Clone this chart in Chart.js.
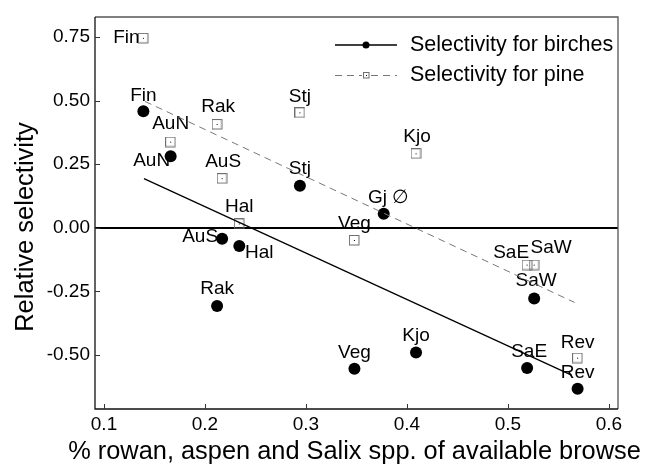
<!DOCTYPE html>
<html><head><meta charset="utf-8">
<script src="https://cdn.jsdelivr.net/npm/chart.js@4.4.0/dist/chart.umd.min.js"></script>
<style>html,body{margin:0;padding:0;background:#fff}#wrap{width:648px;height:464px;position:relative}</style>
</head><body><div id="wrap"><canvas id="c" width="648" height="464"></canvas></div>
<script>
// ---- data ----
const sites = ['Fin','AuN','Rak','AuS','Hal','Stj','Veg','Gj','Kjo','SaE','SaW','Rev'];
const browseShare = [0.139,0.166,0.212,0.217,0.234,0.294,0.348,0.377,0.409,0.519,0.526,0.569];
const birchSelectivity = [0.458,0.281,-0.308,-0.043,-0.072,0.165,-0.555,0.055,-0.491,-0.552,-0.278,-0.633];
const pineSelectivity = [0.745,0.337,0.406,0.193,0.015,0.452,-0.050,null,0.291,-0.147,-0.147,-0.513];
const birchLabels = ['Fin','AuN','Rak','AuS','Hal','Stj','Veg','Gj \u2205','Kjo','SaE','SaW','Rev'];
const pineLabels = ['Fin','AuN','Rak','AuS','Hal','Stj','Veg',null,'Kjo','SaE','SaW','Rev'];
const birchFitX = [0.1396, 0.563];
const birchFitY = [0.193, -0.58];
const pineFitX = [0.1406, 0.566];
const pineFitY = [0.497, -0.294];
const xTicks = [0.1,0.2,0.3,0.4,0.5,0.6];
const yTicks = [0.75,0.5,0.25,0,-0.25,-0.5];
const seriesNames = ['Selectivity for birches','Selectivity for pine'];
const xTitle = '% rowan, aspen and Salix spp. of available browse';
const yTitle = 'Relative selectivity';

// ---- label placement (pixel offsets from the point) ----
const birchLabelOffsets = [[0,-16],[-19,4],[0,-17],[-22,-2],[20,7],[0,-17],[0,-16],[5,-16],[0,-17],[2,-16],[2,-18],[0,-16]];
const pineLabelOffsets = [[-17,-1],[0,-18],[1,-18],[1,-17],[0,-17],[0,-16],[0,-17],null,[1,-17],[-16,-12],[17,-17],[0,-15]];

const FONT = '"Liberation Sans", Arial, Helvetica, sans-serif';

function squareMarker(size){
  const c = document.createElement('canvas');
  c.width = size+1; c.height = size+1;
  const g = c.getContext('2d');
  g.strokeStyle = '#6f6f6f'; g.lineWidth = 1;
  g.strokeRect(0.5,0.5,size-0.5,size-0.5);
  g.fillStyle = '#000';
  const m = Math.floor(size/2);
  g.fillRect(m, m, 1, 1);
  return c;
}
const pineMarker = squareMarker(10);
const pineLegendMarker = squareMarker(6);

const birchPts = browseShare.map((x,i)=>({x, y: birchSelectivity[i]}));
const pinePts = browseShare.map((x,i)=>({x, y: pineSelectivity[i]})).filter(p=>p.y!==null);

const decorPlugin = {
  id: 'decor',
  beforeDatasetsDraw(chart){
    const {ctx, chartArea:a, scales:{x,y}} = chart;
    ctx.save();
    // zero line
    const y0 = Math.round(y.getPixelForValue(0));
    ctx.strokeStyle = '#000'; ctx.lineWidth = 2;
    ctx.beginPath(); ctx.moveTo(a.left, y0); ctx.lineTo(a.right, y0); ctx.stroke();
    // labels
    ctx.font = '19px ' + FONT;
    ctx.fillStyle = '#000'; ctx.textAlign = 'center'; ctx.textBaseline = 'middle';
    birchLabels.forEach((t,i)=>{
      const o = birchLabelOffsets[i];
      ctx.fillText(t, x.getPixelForValue(browseShare[i]) + o[0], y.getPixelForValue(birchSelectivity[i]) + o[1]);
    });
    pineLabels.forEach((t,i)=>{
      if (t===null || pineSelectivity[i]===null) return;
      const o = pineLabelOffsets[i];
      ctx.fillText(t, x.getPixelForValue(browseShare[i]) + o[0], y.getPixelForValue(pineSelectivity[i]) + o[1]);
    });
    ctx.restore();
  },
  afterDraw(chart){
    const {ctx, chartArea:a, scales:{x,y}} = chart;
    ctx.save();
    // frame
    ctx.lineWidth = 1.3;
    ctx.strokeStyle = '#555';
    ctx.beginPath(); ctx.moveTo(a.left, a.top); ctx.lineTo(a.right, a.top); ctx.lineTo(a.right, a.bottom); ctx.stroke();
    ctx.strokeStyle = '#111';
    ctx.beginPath(); ctx.moveTo(a.left, a.top); ctx.lineTo(a.left, a.bottom); ctx.lineTo(a.right, a.bottom); ctx.stroke();
    // inward ticks
    ctx.lineWidth = 1; ctx.strokeStyle = '#333';
    x.ticks.forEach(t=>{
      const px = Math.round(x.getPixelForValue(t.value))+0.5;
      ctx.beginPath(); ctx.moveTo(px, a.bottom); ctx.lineTo(px, a.bottom-5); ctx.stroke();
    });
    y.ticks.forEach(t=>{
      const py = Math.round(y.getPixelForValue(t.value))+0.5;
      ctx.beginPath(); ctx.moveTo(a.left, py); ctx.lineTo(a.left+5, py); ctx.stroke();
    });
    // x axis title (sized to span ~573px, centred under the plot)
    ctx.fillStyle = '#000';
    ctx.font = '25px ' + FONT;
    const w25 = ctx.measureText(xTitle).width;
    const fs = Math.min(30, 25 * 573 / w25);
    ctx.font = fs.toFixed(2) + 'px ' + FONT;
    ctx.textAlign = 'center'; ctx.textBaseline = 'alphabetic';
    ctx.fillText(xTitle, (a.left + a.right) / 2 - 2, 459);
    // y axis title
    ctx.save();
    ctx.translate(26, a.top + (a.bottom - a.top) / 2 + 14);
    ctx.rotate(-Math.PI/2);
    ctx.font = '25.5px ' + FONT;
    ctx.textAlign = 'center'; ctx.textBaseline = 'middle';
    ctx.fillText(yTitle, 0, 0);
    ctx.restore();
    // legend
    const lx0 = a.left + 240, lx1 = a.left + 302, lm = a.left + 271, tx = a.left + 315;
    const ly1 = a.top + 28, ly2 = a.top + 58;
    ctx.strokeStyle = '#000'; ctx.lineWidth = 1.3;
    ctx.beginPath(); ctx.moveTo(lx0, ly1); ctx.lineTo(lx1, ly1); ctx.stroke();
    ctx.fillStyle = '#000';
    ctx.beginPath(); ctx.arc(lm, ly1, 3.5, 0, Math.PI*2); ctx.fill();
    ctx.strokeStyle = '#777'; ctx.lineWidth = 1; ctx.setLineDash([7,5]);
    ctx.beginPath(); ctx.moveTo(lx0, ly2+0.5); ctx.lineTo(lx1, ly2+0.5); ctx.stroke();
    ctx.setLineDash([]);
    ctx.fillStyle = '#fff'; ctx.fillRect(lm-4, ly2-4, 8, 8);
    ctx.drawImage(pineLegendMarker, lm-3, ly2-3);
    ctx.fillStyle = '#000'; ctx.font = '21.5px ' + FONT;
    ctx.textAlign = 'left'; ctx.textBaseline = 'middle';
    ctx.fillText(seriesNames[0], tx, ly1);
    ctx.fillText(seriesNames[1], tx, ly2);
    ctx.restore();
  }
};

new Chart(document.getElementById('c'), {
  type: 'scatter',
  data: {
    datasets: [
      { label: seriesNames[0] + ' fit', data: birchFitX.map((x,i)=>({x, y: birchFitY[i]})), showLine: true,
        borderColor: '#000', borderWidth: 1.3, pointRadius: 0, fill: false },
      { label: seriesNames[1] + ' fit', data: pineFitX.map((x,i)=>({x, y: pineFitY[i]})), showLine: true,
        borderColor: '#777', borderWidth: 1, borderDash: [7,5], pointRadius: 0, fill: false },
      { label: seriesNames[0], data: birchPts, backgroundColor: '#000', borderWidth: 0, pointRadius: 6, pointHoverRadius: 6 },
      { label: seriesNames[1], data: pinePts, pointStyle: pineMarker, pointRadius: 5 }
    ]
  },
  options: {
    responsive: false, animation: false, devicePixelRatio: 1,
    layout: { padding: { top: 17, right: 30, left: 0, bottom: 0 } },
    plugins: { legend: { display: false }, tooltip: { enabled: false } },
    scales: {
      x: {
        type: 'linear', min: 0.0911, max: 0.609,
        afterFit: s => { s.height = 55; },
        afterBuildTicks: s => { s.ticks = xTicks.map(v=>({value:v})); },
        grid: { display: false, drawTicks: false }, border: { display: false },
        ticks: { color: '#000', font: { size: 19, family: FONT }, padding: 4, maxRotation: 0, autoSkip: false,
                 callback: v => Number(v).toFixed(1) },
        title: { display: false, text: xTitle }
      },
      y: {
        type: 'linear', min: -0.713, max: 0.829,
        afterFit: s => { s.width = 95; },
        afterBuildTicks: s => { s.ticks = yTicks.map(v=>({value:v})); },
        grid: { display: false, drawTicks: false }, border: { display: false },
        ticks: { color: '#000', font: { size: 19, family: FONT }, padding: 5, autoSkip: false,
                 callback: v => Number(v).toFixed(2) },
        title: { display: false, text: yTitle }
      }
    }
  },
  plugins: [decorPlugin]
});
</script>
</body></html>
